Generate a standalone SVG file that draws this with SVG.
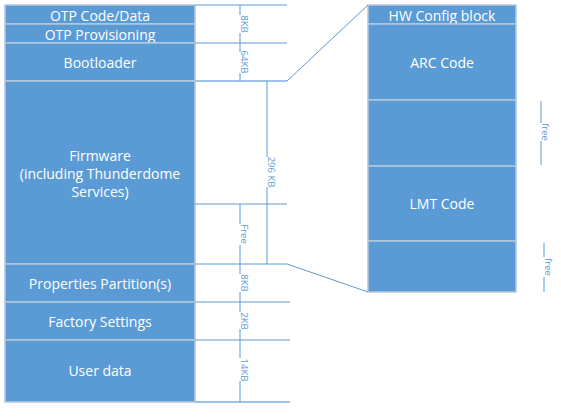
<svg xmlns="http://www.w3.org/2000/svg" width="561" height="417" viewBox="0 0 561 417">
<style>
.blk{fill:#5B9BD5;stroke:#B4C7DC;stroke-width:1.5}
.lbl{font-family:"Segoe UI","Open Sans","Liberation Sans",sans-serif;font-size:14px;fill:#FFFFFF;text-anchor:middle;dominant-baseline:central}
.ln{stroke:#5B9BD5;stroke-width:1;fill:none}
.ln2{stroke:#9DC3E6;stroke-width:2;fill:none}
.sz{font-family:"Segoe UI","Open Sans","Liberation Sans",sans-serif;font-size:9.5px;fill:#5B9BD5;text-anchor:middle;dominant-baseline:central}
</style>
<rect x="0" y="0" width="561" height="417" fill="#FFFFFF"/>
<g id="left-col">
<g id="otp-code"><rect class="blk" x="5" y="5" width="190" height="19"/><text class="lbl" x="100" y="15">OTP Code/Data</text></g>
<g id="otp-prov"><rect class="blk" x="5" y="24" width="190" height="19"/><text class="lbl" x="100" y="34">OTP Provisioning</text></g>
<g id="bootloader"><rect class="blk" x="5" y="43" width="190" height="38"/><text class="lbl" x="100" y="62">Bootloader</text></g>
<g id="firmware"><rect class="blk" x="5" y="81" width="190" height="183"/><text class="lbl" x="100" y="155">Firmware</text><text class="lbl" x="100" y="173">(including Thunderdome</text><text class="lbl" x="100" y="191">Services)</text></g>
<g id="properties"><rect class="blk" x="5" y="264" width="190" height="38"/><text class="lbl" x="100" y="283">Properties Partition(s)</text></g>
<g id="factory"><rect class="blk" x="5" y="302" width="190" height="38"/><text class="lbl" x="100" y="321">Factory Settings</text></g>
<g id="userdata"><rect class="blk" x="5" y="340" width="190" height="62"/><text class="lbl" x="100" y="370">User data</text></g>
</g>
<g id="right-col">
<g id="hwconfig"><rect class="blk" x="368" y="5" width="148" height="19"/><text class="lbl" x="442" y="15">HW Config block</text></g>
<g id="arc"><rect class="blk" x="368" y="24" width="148" height="76"/><text class="lbl" x="442" y="62">ARC Code</text></g>
<g id="free1"><rect class="blk" x="368" y="100" width="148" height="66"/></g>
<g id="lmt"><rect class="blk" x="368" y="166" width="148" height="75"/><text class="lbl" x="442" y="203">LMT Code</text></g>
<g id="free2"><rect class="blk" x="368" y="241" width="148" height="51"/></g>
</g>
<g id="connectors">
<path class="ln" d="M195 5H287M195 43H287M195 204H287M195 264H287M195 302H290M195 340H290"/>
<path class="ln2" d="M195 81H287M195 402H290"/>
<path class="ln" d="M287 81L368 5M287 264L368 292"/>
<path class="ln" d="M240 5V15M240 33V43M240 43V52M240 73V81M267 81V157M267 187V264M240 204V224M240 245V264M240 264V274M240 292V302M240 302V312M240 329V340M240 340V358M240 381V402"/>
<path class="ln" d="M541 101V123M541 141V165M544 243V257M544 277V292"/>
<text class="sz" transform="translate(244 24) rotate(90)">8KB</text>
<text class="sz" transform="translate(244 62) rotate(90)">64KB</text>
<text class="sz" transform="translate(271 172) rotate(90)">296 KB</text>
<text class="sz" transform="translate(244 234) rotate(90)">Free</text>
<text class="sz" transform="translate(244 283) rotate(90)">8KB</text>
<text class="sz" transform="translate(244 321) rotate(90)">2KB</text>
<text class="sz" transform="translate(244 370) rotate(90)">14KB</text>
<text class="sz" transform="translate(545 132) rotate(90)">free</text>
<text class="sz" transform="translate(548 267) rotate(90)">free</text>
</g>
</svg>
